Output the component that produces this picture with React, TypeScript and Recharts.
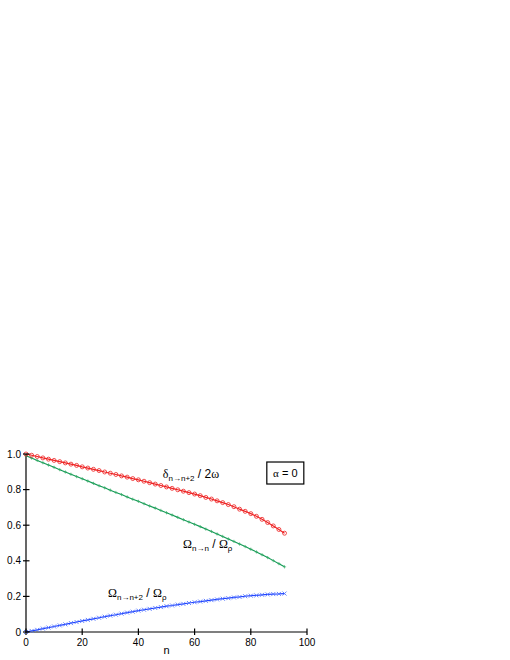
import React from "react";
import { LineChart, Line, XAxis, YAxis, ReferenceDot } from "recharts";

// n sampled every 2 up to 92
const nValues = [
  0, 2, 4, 6, 8, 10, 12, 14, 16, 18, 20, 22, 24, 26, 28, 30, 32, 34, 36, 38, 40, 42, 44, 46,
  48, 50, 52, 54, 56, 58, 60, 62, 64, 66, 68, 70, 72, 74, 76, 78, 80, 82, 84, 86, 88, 90, 92,
];

// delta_{n->n+2} / 2 omega
const deltaRatio = [
  1.0, 0.993, 0.986, 0.978, 0.971, 0.964, 0.957, 0.95, 0.943, 0.936, 0.928, 0.921, 0.914, 0.907,
  0.899, 0.892, 0.885, 0.877, 0.87, 0.862, 0.855, 0.847, 0.839, 0.831, 0.823, 0.815, 0.807, 0.799,
  0.791, 0.783, 0.775, 0.766, 0.756, 0.747, 0.737, 0.727, 0.716, 0.704, 0.69, 0.678, 0.665, 0.65,
  0.633, 0.615, 0.596, 0.576, 0.555,
];

// Omega_{n->n} / Omega_rho
const omegaSame = [
  0.99, 0.977, 0.964, 0.951, 0.938, 0.925, 0.912, 0.899, 0.886, 0.873, 0.861, 0.848, 0.835, 0.822,
  0.81, 0.797, 0.784, 0.772, 0.759, 0.746, 0.734, 0.721, 0.708, 0.696, 0.683, 0.67, 0.657, 0.644,
  0.631, 0.618, 0.605, 0.592, 0.578, 0.565, 0.551, 0.537, 0.523, 0.509, 0.494, 0.48, 0.465, 0.45,
  0.434, 0.418, 0.401, 0.384, 0.366,
];

// Omega_{n->n+2} / Omega_rho
const omegaNext = [
  0.0, 0.006, 0.012, 0.019, 0.025, 0.031, 0.037, 0.043, 0.05, 0.056, 0.062, 0.068, 0.074, 0.08,
  0.086, 0.092, 0.097, 0.103, 0.109, 0.114, 0.12, 0.125, 0.13, 0.135, 0.14, 0.145, 0.149, 0.154,
  0.158, 0.163, 0.167, 0.171, 0.175, 0.179, 0.183, 0.187, 0.19, 0.194, 0.197, 0.201, 0.204, 0.206,
  0.209, 0.211, 0.213, 0.214, 0.216,
];

const xTicks = [0, 20, 40, 60, 80, 100];
const yTicks = [0, 0.2, 0.4, 0.6, 0.8, 1.0];

const data = nValues.map((n, i) => ({
  n,
  delta: deltaRatio[i],
  same: omegaSame[i],
  next: omegaNext[i],
}));

const RED = "#ee2222";
const GREEN = "#119955";
const BLUE = "#2244ff";
const SANS = "'Liberation Sans', Arial, sans-serif";
const SERIF = "'Liberation Serif', 'Times New Roman', serif";

const fmtY = (v: number) => (v === 0 ? "0" : v.toFixed(1));

const BottomTick = (p: any) => (
  <g>
    <line x1={p.x} x2={p.x} y1={p.y - 3.5} y2={p.y + 3} stroke="#000" strokeWidth={1.2} />
    <text x={p.x} y={p.y + 14} textAnchor="middle" fontSize={10} fontFamily={SANS} fill="#000">
      {p.payload.value}
    </text>
  </g>
);
const TopTick = (p: any) => (
  <line x1={p.x} x2={p.x} y1={p.y - 3} y2={p.y + 3.5} stroke="#000" strokeWidth={1.2} />
);
const LeftTick = (p: any) => (
  <g>
    <line x1={p.x - 3} x2={p.x + 3.5} y1={p.y} y2={p.y} stroke="#000" strokeWidth={1.2} />
    <text x={p.x - 5} y={p.y + 3.5} textAnchor="end" fontSize={10} fontFamily={SANS} fill="#000">
      {fmtY(p.payload.value)}
    </text>
  </g>
);
const RightTick = (p: any) => (
  <line x1={p.x - 3.5} x2={p.x + 3} y1={p.y} y2={p.y} stroke="#000" strokeWidth={1.2} />
);

const circleDot = (p: any) => (
  <circle key={p.index} cx={p.cx} cy={p.cy} r={2} fill="none" stroke={RED} strokeWidth={0.8} />
);
const plusDot = (p: any) => (
  <path
    key={p.index}
    d={`M${p.cx - 1.6},${p.cy}H${p.cx + 1.6}M${p.cx},${p.cy - 1.6}V${p.cy + 1.6}`}
    stroke="#33aa66"
    strokeWidth={0.7}
  />
);
const crossDot = (p: any) => (
  <path
    key={p.index}
    d={`M${p.cx - 2},${p.cy - 2}L${p.cx + 2},${p.cy + 2}M${p.cx - 2},${p.cy + 2}L${p.cx + 2},${p.cy - 2}`}
    stroke="#5577ff"
    strokeWidth={0.9}
  />
);

const Sub = ({ children }: { children: React.ReactNode }) => (
  <tspan fontSize={8} dy={3} fontFamily={SANS}>
    {children}
  </tspan>
);

const DeltaLabel = (p: any) => (
  <text x={p.cx} y={p.cy} fontSize={12} fill="#000" fontFamily={SANS}>
    <tspan fontFamily={SERIF}>δ</tspan>
    <Sub>n→n+2</Sub>
    <tspan dy={-3}> / 2</tspan>
    <tspan fontFamily={SERIF}>ω</tspan>
  </text>
);

const OmegaSameLabel = (p: any) => (
  <text x={p.cx} y={p.cy} fontSize={12} fill="#000" fontFamily={SANS}>
    <tspan fontFamily={SERIF}>Ω</tspan>
    <Sub>n→n</Sub>
    <tspan dy={-3}> / </tspan>
    <tspan fontFamily={SERIF}>Ω</tspan>
    <Sub>ρ</Sub>
  </text>
);

const OmegaNextLabel = (p: any) => (
  <text x={p.cx} y={p.cy} fontSize={12} fill="#000" fontFamily={SANS}>
    <tspan fontFamily={SERIF}>Ω</tspan>
    <Sub>n→n+2</Sub>
    <tspan dy={-3}> / </tspan>
    <tspan fontFamily={SERIF}>Ω</tspan>
    <Sub>ρ</Sub>
  </text>
);

const AlphaBox = (p: any) => (
  <g>
    <rect x={p.cx} y={p.cy} width={37} height={22} fill="#fff" stroke="#000" strokeWidth={1.2} />
    <text x={p.cx + 18.5} y={p.cy + 15} textAnchor="middle" fontSize={11} fontFamily={SANS} fill="#000">
      <tspan fontFamily={SERIF}>α</tspan> = 0
    </text>
  </g>
);

export default function App() {
  return (
    <div style={{ position: "absolute", left: 0, top: 0, width: 510, height: 660, background: "#fff" }}>
      <LineChart width={510} height={660} data={data} margin={{ top: 454, right: 203, bottom: 0, left: 0 }}>
        <XAxis
          xAxisId="bottom"
          dataKey="n"
          type="number"
          domain={[0, 100]}
          ticks={xTicks}
          interval={0}
          height={28}
          tickSize={0}
          tickMargin={0}
          tickLine={false}
          axisLine={{ stroke: "#000", strokeWidth: 1.2 }}
          tick={BottomTick}
          label={{ value: "n", position: "bottom", offset: -14, fontSize: 11, fontFamily: SANS, fill: "#000" }}
        />
        <XAxis
          xAxisId="top"
          orientation="top"
          dataKey="n"
          type="number"
          domain={[0, 100]}
          ticks={xTicks}
          interval={0}
          height={0}
          tickSize={0}
          tickMargin={0}
          tickLine={false}
          axisLine={{ stroke: "#000", strokeWidth: 1.2 }}
          tick={TopTick}
        />
        <YAxis
          yAxisId="left"
          type="number"
          domain={[0, 1]}
          ticks={yTicks}
          interval={0}
          width={26}
          tickSize={0}
          tickMargin={0}
          tickLine={false}
          axisLine={{ stroke: "#000", strokeWidth: 1.2 }}
          tick={LeftTick}
        />
        <YAxis
          yAxisId="right"
          orientation="right"
          type="number"
          domain={[0, 1]}
          ticks={yTicks}
          interval={0}
          width={0}
          tickSize={0}
          tickMargin={0}
          tickLine={false}
          axisLine={{ stroke: "#000", strokeWidth: 1.2 }}
          tick={RightTick}
        />
        <Line
          xAxisId="bottom"
          yAxisId="left"
          dataKey="same"
          stroke={GREEN}
          strokeWidth={1.1}
          dot={plusDot}
          isAnimationActive={false}
        />
        <Line
          xAxisId="bottom"
          yAxisId="left"
          dataKey="next"
          stroke={BLUE}
          strokeWidth={1.2}
          dot={crossDot}
          isAnimationActive={false}
        />
        <Line
          xAxisId="bottom"
          yAxisId="left"
          dataKey="delta"
          stroke={RED}
          strokeWidth={1.2}
          dot={circleDot}
          isAnimationActive={false}
        />
        <ReferenceDot xAxisId="bottom" yAxisId="left" x={48.7} y={0.865} r={1} shape={DeltaLabel} />
        <ReferenceDot xAxisId="bottom" yAxisId="left" x={55.9} y={0.472} r={1} shape={OmegaSameLabel} />
        <ReferenceDot xAxisId="bottom" yAxisId="left" x={29.2} y={0.197} r={1} shape={OmegaNextLabel} />
        <ReferenceDot xAxisId="bottom" yAxisId="left" x={85.7} y={0.955} r={1} shape={AlphaBox} />
      </LineChart>
    </div>
  );
}
